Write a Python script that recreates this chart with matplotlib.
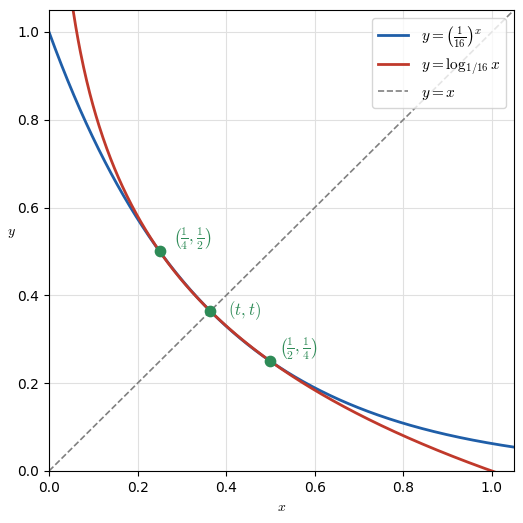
import numpy as np
import matplotlib
matplotlib.use("Agg")
import matplotlib.pyplot as plt

plt.rcParams['mathtext.fontset'] = 'cm'

# =======================
# Data
# =======================
base = 1 / 16
x_min, x_max = 0.0, 1.05
pts_x = [0.25, 0.3642, 0.5]
pts_y = [0.5, 0.3642, 0.25]
pt_labels = [r"$\left(\frac{1}{4},\frac{1}{2}\right)$", r"$(t,t)$",
             r"$\left(\frac{1}{2},\frac{1}{4}\right)$"]
label_offsets = [(0.03, 0.02), (0.04, -0.01), (0.02, 0.02)]

xs = np.linspace(x_min, x_max, 600)
exp_y = base ** xs
xl = np.linspace(0.001, x_max, 600)
log_y = np.log(xl) / np.log(base)

# =======================
# Plot
# =======================
fig = plt.figure(figsize=(5.23, 5.23), dpi=100)
ax = fig.add_axes([49 / 523, 52 / 523, 465 / 523, 461 / 523])

ax.plot(xs, exp_y, color="#1f5ea8", lw=2, label=r"$y=\left(\frac{1}{16}\right)^x$")
ax.plot(xl, log_y, color="#c0392b", lw=2, label=r"$y=\log_{1/16}x$")
ax.plot(xs, xs, color="gray", lw=1.2, ls="--", label=r"$y=x$")

ax.scatter(pts_x, pts_y, s=55, color="#2e8b57", zorder=5)
for px, py, lab, (dx, dy) in zip(pts_x, pts_y, pt_labels, label_offsets):
    ax.text(px + dx, py + dy, lab, color="#2e8b57", fontsize=12)

ax.set_xlim(x_min, x_max)
ax.set_ylim(0, 1.05)
ax.set_xlabel(r"$x$")
ax.set_ylabel(r"$y$", rotation=0)
ax.grid(True, color="#e0e0e0", lw=0.8)
ax.set_axisbelow(True)
ax.legend(loc="upper right", fontsize=11)

fig.savefig("out.png", dpi=100)
